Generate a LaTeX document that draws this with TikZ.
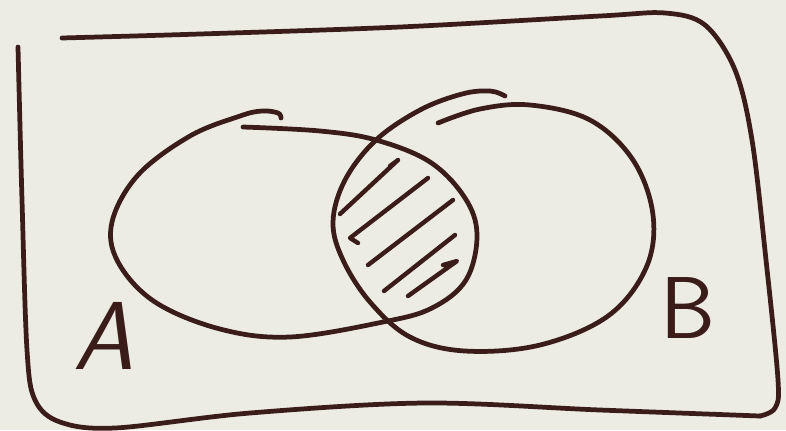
\documentclass[tikz,border=0pt]{standalone}
\usepackage{tikz}
\usetikzlibrary{positioning}
\definecolor{ink}{HTML}{3A1D18}
\definecolor{paper}{HTML}{ECECE3}

\begin{document}
\begin{tikzpicture}[
    x=0.02cm, y=-0.02cm,
    pen/.style={draw=ink, line width=2.7pt, line cap=round, line join=round},
    hatch/.style={pen, line width=2.5pt},
    setlabel/.style={text=ink, inner sep=0pt, font=\sffamily\fontsize{50}{50}\selectfont},
]
\fill[paper] (0,0) rectangle (786,430);
\useasboundingbox (0,0) rectangle (786,430);
% universe box
\draw[pen] plot[smooth, tension=0.55] coordinates {(62,38) (200,34) (400,27) (600,16) (665,13) (705,25) (735,70) (752,140) (766,260) (778,380) (775,408) (760,416)};
\draw[pen] plot[smooth, tension=0.55] coordinates {(760,416) (600,410) (425,403) (250,413) (115,428) (60,422) (35,400) (27,350) (22,200) (18,47)};
% set A
\draw[pen] plot[smooth, tension=0.6] coordinates {(243,127) (320,131) (376,140) (430,162) (465,198) (477,235) (466,280) (432,308) (383,322) (290,337) (220,329) (155,302) (118,262) (112,222) (138,175) (190,136) (240,116) (262,111) (278,113) (281,118)};
% set B
\draw[pen] plot[smooth, tension=0.6] coordinates {(438,123) (480,109) (530,105) (590,120) (633,160) (653,215) (646,268) (608,316) (540,345) (465,351) (410,337) (370,302) (343,260) (333,222) (345,180) (376,140) (420,110) (462,94) (490,91) (505,96)};
% intersection hatching
\draw[hatch] (340,214) -- (398,160) -- (390,166);
\draw[hatch] (428,178) -- (350,238) -- (358,243);
\draw[hatch] (368,265) -- (453,200);
\draw[hatch] (384,291) -- (455,235);
\draw[hatch] (408,296) -- (457,261) -- (443,265);
% labels
\node[setlabel, font=\sffamily\itshape\fontsize{55}{55}\selectfont] (labA) at (104,336) {A};
\node[setlabel] (labB) at (688,308) {B};
\end{tikzpicture}
\end{document}
